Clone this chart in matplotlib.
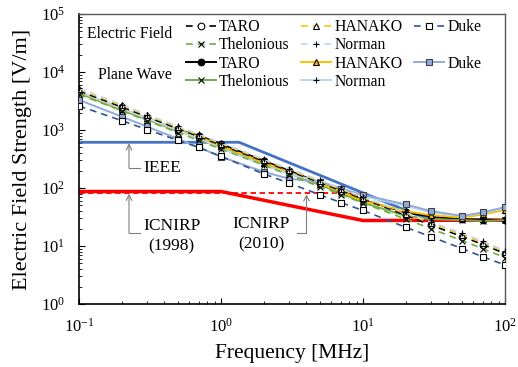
import matplotlib
matplotlib.use('Agg')
import matplotlib.pyplot as plt
from matplotlib.lines import Line2D

plt.rcParams['font.family'] = ['Liberation Serif', 'DejaVu Serif']
plt.rcParams['mathtext.fontset'] = 'custom'
plt.rcParams['mathtext.rm'] = 'Liberation Serif'

# frequencies [MHz]
freq = [0.1, 0.2, 0.3, 0.5, 0.7, 1, 2, 3, 5, 7, 10, 20, 30, 50, 70, 100]

# electric field exposure [V/m]
ef_taro  = [4700, 2500, 1700, 1050, 770, 550, 290, 197, 124, 90, 65, 34, 23, 14.5, 10.6, 7.4]
ef_hana  = [5000, 2650, 1800, 1110, 810, 580, 305, 207, 130, 95, 68, 36, 25, 15.5, 11.4, 8.0]
ef_duke  = [2600, 1450, 1020, 660, 500, 350, 175, 122, 76, 56, 41, 21, 14.5, 9.0, 6.5, 4.7]
ef_thel  = [4100, 2150, 1450, 900, 660, 470, 248, 168, 105, 77, 55, 29, 20, 12.3, 9.0, 6.3]
ef_norm  = [5200, 2750, 1850, 1150, 840, 600, 315, 215, 135, 98, 71, 38, 26, 16.5, 12.0, 8.3]

# plane wave exposure [V/m]
pw_taro  = [4500, 2300, 1600, 1000, 800, 570, 295, 200, 122, 90, 62, 38, 32, 29, 28.5, 28]
pw_hana  = [4550, 2330, 1610, 1000, 770, 530, 275, 188, 118, 88, 60, 40, 34, 31, 35, 42]
pw_duke  = [3300, 1700, 1150, 700, 500, 345, 190, 145, 125, 98, 76, 52, 40, 33, 38, 47]
pw_thel  = [4300, 2200, 1520, 950, 740, 515, 265, 180, 112, 82, 56, 33, 29, 28, 27, 28]
pw_norm  = [4600, 2350, 1600, 980, 720, 480, 250, 175, 130, 100, 73, 49, 38, 33, 37, 45]

# reference levels
ieee_f   = [0.1, 1.34, 30, 100]
ieee_e   = [614, 614, 27.5, 27.5]
icn98_f  = [0.1, 1, 10, 100]
icn98_e  = [87, 87, 27.5, 28]
icn10_f  = [0.1, 10]
icn10_e  = [83, 83]

BLK = '#000000'
GLD = '#FFC000'
GRN = '#70AD47'
LBL = '#BDD7EE'
DBL = '#2F5597'
PWB = '#8FAADC'
IEB = '#4472C4'
RED = '#FF0000'
GRY = '#7F7F7F'

W, H = 518, 367
fig = plt.figure(figsize=(W/100, H/100), dpi=100)
ax = fig.add_axes([79/W, 1-304/H, 426/W, 290/H])
ax.set_xscale('log'); ax.set_yscale('log')
ax.set_xlim(0.1, 100); ax.set_ylim(1, 1e5)

# limits
ax.plot(ieee_f, ieee_e, color=IEB, lw=2, zorder=2)
ax.plot(icn98_f, icn98_e, color=RED, lw=2.5, zorder=2)
ax.plot(icn10_f, icn10_e, color=RED, lw=1.3, ls=(0, (3, 2)), zorder=2)

dash = (0, (4, 3))
ms = 4.8
ef_lines = [
    ('TARO', ef_taro, BLK, 'o', 'white'),
    ('Thelonious', ef_thel, GRN, 'x', BLK),
    ('HANAKO', ef_hana, GLD, '^', 'white'),
    ('Norman', ef_norm, LBL, '+', BLK),
    ('Duke', ef_duke, DBL, 's', 'white'),
]
pw_lines = [
    ('TARO', pw_taro, BLK, 'o', BLK),
    ('Thelonious', pw_thel, GRN, 'x', BLK),
    ('HANAKO', pw_hana, GLD, '^', GLD),
    ('Norman', pw_norm, LBL, '+', BLK),
    ('Duke', pw_duke, PWB, 's', PWB),
]

h_ef, h_pw = [], []
for name, vals, c, m, fc in pw_lines:
    l, = ax.plot(freq, vals, color=c, lw=1.4, marker=m, ms=ms, mfc=fc,
                 mec=BLK if m != 's' else '#404040', mew=0.8, label=name, zorder=3)
    h_pw.append(l)
for name, vals, c, m, fc in ef_lines:
    l, = ax.plot(freq, vals, color=c, lw=1.2, ls=dash, marker=m, ms=ms, mfc=fc,
                 mec=BLK, mew=0.8, label=name, zorder=4)
    h_ef.append(l)

leg_kw = dict(ncol=3, frameon=False, fontsize=11.3, handlelength=1.9,
              handletextpad=0.2, columnspacing=0.75, labelspacing=0.15,
              borderpad=0, borderaxespad=0, loc='upper left')
leg1 = fig.legend(handles=h_ef, bbox_to_anchor=(186/W, 1-19/H), **leg_kw)
leg2 = fig.legend(handles=h_pw, bbox_to_anchor=(186/W, 1-55.5/H), **leg_kw)

# group brackets
def bracket(y0, y1):
    x = 183
    ym = (y0 + y1) / 2
    fig.add_artist(Line2D([x+3, x, x, x+3], [1-y0/H, 1-y0/H, 1-y1/H, 1-y1/H],
                          transform=fig.transFigure, color=BLK, lw=0.8))
    fig.add_artist(Line2D([x-3, x], [1-ym/H, 1-ym/H],
                          transform=fig.transFigure, color=BLK, lw=0.8))

bracket(15, 52)
bracket(56, 92)
fig.text(172/W, 1-34/H, 'Electric Field', ha='right', va='center', fontsize=11.3)
fig.text(172/W, 1-75/H, 'Plane Wave', ha='right', va='center', fontsize=11.3)

# annotations
arr = dict(arrowstyle='->', color=GRY, lw=0.8, shrinkA=0, shrinkB=0)
ax.annotate('', xy=(0.225, 590), xytext=(0.225, 221), arrowprops=arr)
ax.plot([0.225, 0.268], [221, 221], color=GRY, lw=0.8)
ax.text(0.385, 221, 'IEEE', ha='center', va='center', fontsize=12.5)

ax.annotate('', xy=(0.225, 80), xytext=(0.225, 16.7), arrowprops=arr)
ax.plot([0.225, 0.268], [16.7, 16.7], color=GRY, lw=0.8)
ax.text(0.45, 14.8, 'ICNIRP\n(1998)', ha='center', va='center', fontsize=12.5,
        linespacing=1.3)

ax.annotate('', xy=(4.0, 78), xytext=(4.0, 16.7), arrowprops=arr)
ax.plot([4.0, 3.43], [16.7, 16.7], color=GRY, lw=0.8)
ax.text(1.92, 16, 'ICNIRP\n(2010)', ha='center', va='center', fontsize=12.5,
        linespacing=1.3)

ax.set_xlabel('Frequency [MHz]', fontsize=15.5, labelpad=6)
ax.set_ylabel('Electric Field Strength [V/m]', fontsize=16, labelpad=6)
ax.tick_params(which='both', direction='in', labelsize=12, top=False, right=False)
ax.tick_params(which='major', length=4)
ax.tick_params(which='minor', length=2)
ax.tick_params(axis='x', pad=10)
ax.tick_params(axis='y', pad=10)
for s in ['left', 'bottom']:
    ax.spines[s].set_linewidth(1.2)
for s in ['top', 'right']:
    ax.spines[s].set_color('#595959')
    ax.spines[s].set_linewidth(1.0)

plt.savefig('out.png', dpi=100)
